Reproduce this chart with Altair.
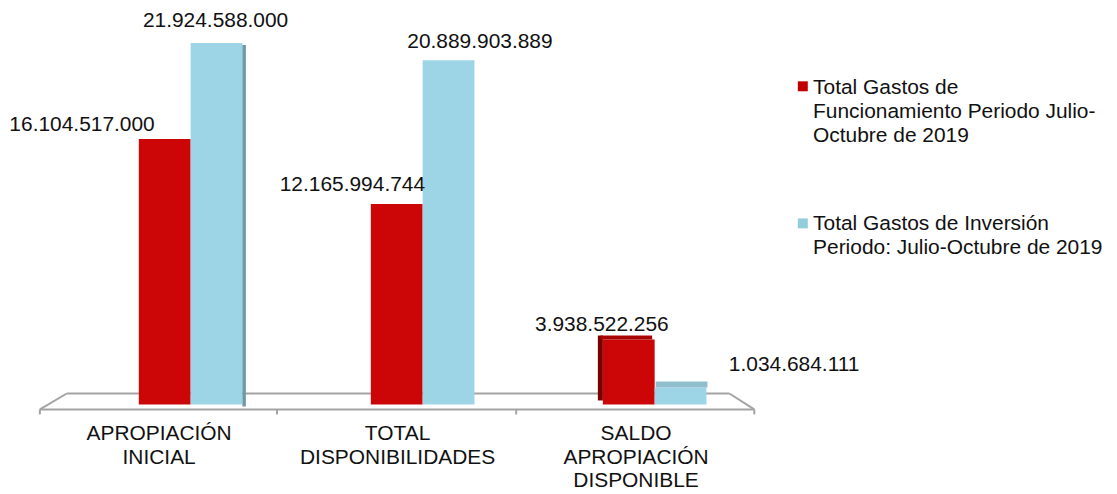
import altair as alt
import pandas as pd

# ---------------- data ----------------
CATEGORIES = ["APROPIACIÓN INICIAL", "TOTAL DISPONIBILIDADES", "SALDO APROPIACIÓN DISPONIBLE"]
CATEGORY_LABELS = ["APROPIACIÓN\nINICIAL", "TOTAL\nDISPONIBILIDADES", "SALDO\nAPROPIACIÓN\nDISPONIBLE"]
SERIES = ["Funcionamiento", "Inversión"]
LEGEND_LABELS = [
    "Total Gastos de\nFuncionamiento Periodo Julio-\nOctubre de 2019",
    "Total Gastos de Inversión\nPeriodo: Julio-Octubre de 2019",
]
FUNCIONAMIENTO = [16104517000, 12165994744, 3938522256]
INVERSION = [21924588000, 20889903889, 1034684111]

# ---------------- style ----------------
RED = "#CC0606"
BLUE = "#9DD5E7"
LEGEND_RED = "#C00000"
LEGEND_BLUE = "#92CDDC"
FONT = "Liberation Sans"
FS = 21
# (dx, dy) offsets of the value labels, per category, per series
LABEL_OFFSETS = {
    (0, 0): (-83, -7.8), (0, 1): (-1, -16.1),
    (1, 0): (-44.5, -13), (1, 1): (31.5, -12.6),
    (2, 0): (-27, -8.1), (2, 1): (114, -16.2),
}

rows = []
for i, c in enumerate(CATEGORIES):
    for s, vals in zip(SERIES, [FUNCIONAMIENTO, INVERSION]):
        v = vals[i]
        rows.append({"cat": c, "series": s, "value": v,
                     "label": f"{v:,}".replace(",", "."),
                     "key": f"{i}-{SERIES.index(s)}"})
df = pd.DataFrame(rows)
cat_df = pd.DataFrame({"cat": CATEGORIES, "lab": CATEGORY_LABELS})

xbar = alt.X("cat:N", sort=CATEGORIES, axis=None,
             scale=alt.Scale(domain=CATEGORIES, range=[131.3, 701.0],
                             paddingInner=0.5534, paddingOuter=0))
xoff = alt.XOffset("series:N", sort=SERIES,
                   scale=alt.Scale(domain=SERIES, paddingInner=0, paddingOuter=0))
yv = alt.Y("value:Q", axis=None, scale=alt.Scale(domain=[0, 24e9]))

base = alt.Chart(df).encode(x=xbar, xOffset=xoff, y=yv)
base_group = alt.Chart(df).encode(x=xbar, y=yv)

bars = base.mark_bar().encode(
    color=alt.Color("series:N", legend=None,
                    scale=alt.Scale(domain=SERIES, range=[RED, BLUE]))
)

# pseudo 3D faces (positioned relative to the category group centre)
side1 = base_group.transform_filter(alt.datum.key == "0-1").mark_bar(
    width=3.5, xOffset=53.7, yOffset=2, y2Offset=-3, color="#6E9AA8")
side3 = base_group.transform_filter(alt.datum.key == "2-0").mark_bar(
    width=5, xOffset=-54.5, yOffset=-4, y2Offset=-3, color="#780000")
top3r = base_group.transform_filter(alt.datum.key == "2-0").mark_bar(
    width=52, xOffset=-28.5, yOffset=-4, color="#A80404").encode(y2=alt.Y2("value:Q"))
top3b = base_group.transform_filter(alt.datum.key == "2-1").mark_bar(
    width=52, xOffset=27, yOffset=-6, color="#8FBFCD").encode(y2=alt.Y2("value:Q"))

value_layers = []
for (ci, si), (dx, dy) in LABEL_OFFSETS.items():
    value_layers.append(
        base.transform_filter(alt.datum.key == f"{ci}-{si}").mark_text(
            font=FONT, fontSize=FS, color="#111111", align="center",
            baseline="alphabetic", dx=dx, dy=dy
        ).encode(text="label:N")
    )

cat_text = alt.Chart(cat_df).mark_text(
    font=FONT, fontSize=FS, color="#111111", align="center",
    baseline="alphabetic", lineBreak="\n", lineHeight=23.5
).encode(
    x=alt.X("cat:N", sort=CATEGORIES, axis=None,
            scale=alt.Scale(domain=CATEGORIES, range=[32, 750],
                            paddingInner=0, paddingOuter=0)),
    y=alt.value(433),
    text="lab:N",
)

one = alt.Data(values=[{}])
GREY = "#A3A3A3"


def rule(x1, y1, x2, y2):
    return alt.Chart(one).mark_rule(color=GREY, strokeWidth=2).encode(
        x=alt.value(x1), y=alt.value(y1), x2=alt.value(x2), y2=alt.value(y2))


floor = [
    rule(59, 386, 724, 386),
    rule(32, 402, 749, 402),
    rule(59, 386, 32, 402),
    rule(724, 386, 749, 402),
    rule(32, 402, 32, 407),
    rule(270, 402, 270, 407),
    rule(510, 402, 510, 407),
    rule(749, 402, 749, 407),
]

legend_layers = []
for i, (lab, col, sy, ty) in enumerate(zip(LEGEND_LABELS, [LEGEND_RED, LEGEND_BLUE],
                                           [77.7, 215.3], [85.3, 222])):
    ld = alt.Data(values=[{"t": lab}])
    legend_layers.append(
        alt.Chart(ld).mark_square(size=100, filled=True, opacity=1, color=col)
        .encode(x=alt.value(797.7), y=alt.value(sy))
    )
    legend_layers.append(
        alt.Chart(ld).mark_text(font=FONT, fontSize=FS, color="#111111", align="left",
                                baseline="alphabetic", lineBreak="\n", lineHeight=24)
        .encode(x=alt.value(808), y=alt.value(ty), text="t:N")
    )

chart = alt.layer(
    *floor, bars, side1, side3, top3r, top3b, *value_layers, cat_text, *legend_layers
).resolve_scale(x="independent").properties(
    width=1100, height=397,
    autosize=alt.AutoSizeParams(type="none"),
    padding={"left": 0, "top": 0, "right": 5, "bottom": 92},
    background="white",
).configure_view(stroke=None)

chart.save("out.html", embed_options={"renderer": "svg", "actions": False})
